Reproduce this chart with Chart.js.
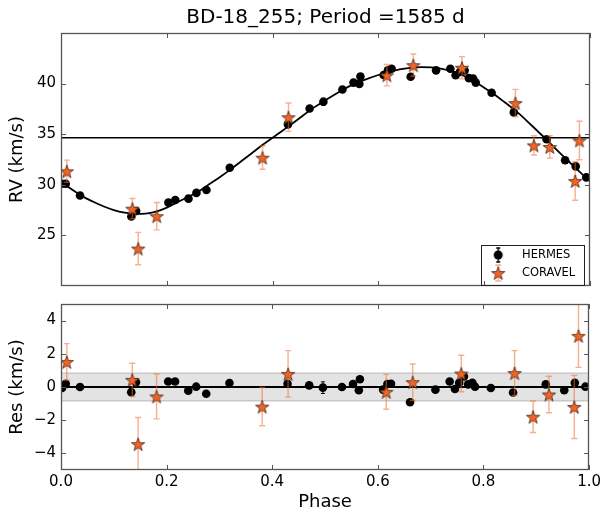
<!DOCTYPE html>
<html><head><meta charset="utf-8">
<script src="https://cdn.jsdelivr.net/npm/chart.js@4.4.1/dist/chart.umd.min.js"></script>
<style>
html,body{margin:0;padding:0;background:#fff;}
#wrap{position:relative;width:604px;height:513px;background:#fff;overflow:hidden;}
#c1{position:absolute;left:0;top:0;}
#c2{position:absolute;left:0;top:290px;}
</style></head><body>
<div id="wrap"><canvas id="c1" width="604" height="300"></canvas><canvas id="c2" width="604" height="223"></canvas></div>
<script>
// ---------------- data ----------------
const titleText = 'BD-18_255; Period =1585 d';
const phaseTicks = [0.0, 0.2, 0.4, 0.6, 0.8, 1.0];
const rvTicks = [25, 30, 35, 40];
const resTicks = [-4, -2, 0, 2, 4];
const seriesNames = ['HERMES', 'CORAVEL'];

const hermesPhase = [0.002, 0.009, 0.036, 0.133, 0.142, 0.203, 0.216, 0.241, 0.256, 0.275, 0.319, 0.429, 0.470, 0.496, 0.532, 0.553, 0.564, 0.566, 0.610, 0.618, 0.625, 0.661, 0.709, 0.736, 0.746, 0.754, 0.763, 0.771, 0.779, 0.784, 0.814, 0.856, 0.918, 0.953, 0.973, 0.993];
const hermesRV = [30.1, 30.1, 28.95, 26.87, 27.41, 28.24, 28.5, 28.63, 29.2, 29.49, 31.69, 35.97, 37.54, 38.21, 39.42, 40.1, 39.97, 40.7, 40.85, 41.31, 41.47, 40.67, 41.31, 41.47, 40.83, 41.15, 41.3, 40.54, 40.51, 40.1, 39.1, 37.16, 34.5, 32.43, 31.82, 30.73];
const hermesRes = [-0.06, 0.2, 0.0, -0.31, 0.29, 0.33, 0.33, -0.22, 0.02, -0.41, 0.24, 0.2, 0.1, -0.04, 0.0, 0.18, -0.2, 0.47, -0.16, 0.18, 0.2, -0.92, -0.16, 0.33, -0.12, 0.25, 0.63, 0.16, 0.25, 0.02, -0.06, -0.33, 0.16, -0.2, 0.25, 0.02];
const hermesErr = [0.15, 0.15, 0.15, 0.15, 0.15, 0.15, 0.15, 0.15, 0.15, 0.15, 0.15, 0.15, 0.15, 0.35, 0.15, 0.15, 0.15, 0.15, 0.15, 0.15, 0.15, 0.15, 0.15, 0.15, 0.15, 0.15, 0.15, 0.15, 0.15, 0.15, 0.15, 0.15, 0.15, 0.15, 0.15, 0.15];

const coravelPhase = [0.011, 0.135, 0.146, 0.181, 0.381, 0.430, 0.616, 0.666, 0.758, 0.859, 0.894, 0.924, 0.972, 0.980];
const coravelRV = [31.34, 27.64, 23.7, 26.9, 32.68, 36.68, 40.83, 41.82, 41.57, 38.08, 33.9, 33.74, 30.38, 34.38];
const coravelRes = [1.51, 0.43, -3.44, -0.57, -1.18, 0.79, -0.29, 0.29, 0.81, 0.84, -1.79, -0.45, -1.2, 3.08];
const coravelErr = [1.1, 1.0, 1.6, 1.35, 1.15, 1.4, 1.05, 1.1, 1.1, 1.35, 0.95, 1.1, 1.9, 1.9];

const curvePhase = [0.00, 0.02, 0.04, 0.06, 0.08, 0.10, 0.12, 0.14, 0.16, 0.18, 0.20, 0.22, 0.24, 0.26, 0.28, 0.30, 0.32, 0.34, 0.36, 0.38, 0.40, 0.42, 0.44, 0.46, 0.48, 0.50, 0.52, 0.54, 0.56, 0.58, 0.60, 0.62, 0.64, 0.66, 0.68, 0.70, 0.72, 0.74, 0.76, 0.78, 0.80, 0.82, 0.84, 0.86, 0.88, 0.90, 0.92, 0.94, 0.96, 0.98, 1.00];
const curveRV = [30.3, 29.55, 28.88, 28.35, 27.88, 27.5, 27.25, 27.12, 27.15, 27.35, 27.75, 28.27, 28.8, 29.33, 30.05, 30.75, 31.5, 32.3, 33.1, 33.9, 34.65, 35.4, 36.15, 36.95, 37.7, 38.35, 39.0, 39.6, 40.1, 40.5, 40.85, 41.15, 41.4, 41.55, 41.62, 41.6, 41.45, 41.2, 40.8, 40.25, 39.6, 38.9, 38.1, 37.3, 36.35, 35.35, 34.35, 33.3, 32.3, 31.3, 30.35];
const gammaRV = [34.65];
const residualZero = [0];
const residualBand = [0.84];

// ---------------- styling helpers ----------------
Chart.defaults.font.family = "'DejaVu Sans', sans-serif";
Chart.defaults.color = '#000';
const starFill = '#f26324';
const starEdge = '#4a2a1a';
const errColor = 'rgba(242,110,50,0.55)';
const frameColor = '#555';

function pts(xs, ys) { return xs.map((x, i) => ({x: x, y: ys[i]})); }

function starPath(ctx, cx, cy, R, r) {
  ctx.beginPath();
  for (let k = 0; k < 10; k++) {
    const ang = -Math.PI / 2 + k * Math.PI / 5;
    const rad = (k % 2 === 0) ? R : r;
    const px = cx + rad * Math.cos(ang), py = cy + rad * Math.sin(ang);
    if (k === 0) ctx.moveTo(px, py); else ctx.lineTo(px, py);
  }
  ctx.closePath();
}
function makeStar(R) {
  const c = document.createElement('canvas');
  const s = Math.ceil(2 * R + 4);
  c.width = s; c.height = s;
  const ctx = c.getContext('2d');
  starPath(ctx, s / 2, s / 2 + 0.8, R, R * 0.40);
  ctx.fillStyle = starFill; ctx.fill();
  ctx.lineWidth = 0.8; ctx.strokeStyle = starEdge; ctx.stroke();
  return c;
}
function makeLegendIcon(kind) {
  const c = document.createElement('canvas');
  c.width = 28; c.height = 22;
  const ctx = c.getContext('2d');
  const cx = 10, cy = 11;
  ctx.lineWidth = 1.4;
  if (kind === 'star') {
    ctx.strokeStyle = errColor;
    ctx.beginPath(); ctx.moveTo(cx, 3); ctx.lineTo(cx, 19);
    ctx.moveTo(cx - 3, 3); ctx.lineTo(cx + 3, 3); ctx.moveTo(cx - 3, 19); ctx.lineTo(cx + 3, 19); ctx.stroke();
    starPath(ctx, cx, cy + 0.8, 7, 2.8);
    ctx.fillStyle = starFill; ctx.fill(); ctx.lineWidth = 0.8; ctx.strokeStyle = starEdge; ctx.stroke();
  } else {
    ctx.strokeStyle = '#000';
    ctx.beginPath(); ctx.moveTo(cx, 4); ctx.lineTo(cx, 18);
    ctx.moveTo(cx - 2, 4); ctx.lineTo(cx + 2, 4); ctx.moveTo(cx - 2, 18); ctx.lineTo(cx + 2, 18); ctx.stroke();
    ctx.beginPath(); ctx.arc(cx, cy, 4.5, 0, Math.PI * 2); ctx.fillStyle = '#000'; ctx.fill();
  }
  return c;
}
const starImg = makeStar(7);
const hermesIcon = makeLegendIcon('dot');
const coravelIcon = makeLegendIcon('star');

// error bars drawn through the chart's scales
const errorBarPlugin = {
  id: 'errorBars',
  beforeDatasetDraw(chart, args) {
    const ds = chart.data.datasets[args.index];
    if (!ds.errorBars) return;
    const xs = chart.scales.x, ys = chart.scales.y, a = chart.chartArea;
    const ctx = chart.ctx;
    ctx.save();
    ctx.beginPath(); ctx.rect(a.left, a.top, a.right - a.left, a.bottom - a.top); ctx.clip();
    ctx.strokeStyle = ds.errorColor; ctx.lineWidth = ds.errorWidth || 1.3;
    const cap = ds.errorCap || 3;
    ds.data.forEach((d, i) => {
      const e = ds.errorBars[i];
      const px = xs.getPixelForValue(d.x);
      const y1 = ys.getPixelForValue(d.y - e), y2 = ys.getPixelForValue(d.y + e);
      ctx.beginPath();
      ctx.moveTo(px, y1); ctx.lineTo(px, y2);
      ctx.moveTo(px - cap, y1); ctx.lineTo(px + cap, y1);
      ctx.moveTo(px - cap, y2); ctx.lineTo(px + cap, y2);
      ctx.stroke();
    });
    ctx.restore();
  }
};

// frame with inward ticks on all four sides
const framePlugin = {
  id: 'frameTicks',
  afterDraw(chart, args, opts) {
    const a = chart.chartArea, ctx = chart.ctx;
    const xs = chart.scales.x, ys = chart.scales.y;
    ctx.save();
    ctx.strokeStyle = frameColor; ctx.lineWidth = 1.3;
    ctx.strokeRect(Math.round(a.left) + 0.5, Math.round(a.top) + 0.5, Math.round(a.right - a.left) - 1, Math.round(a.bottom - a.top) - 1);
    ctx.lineWidth = 1;
    ctx.beginPath();
    phaseTicks.forEach(v => {
      const p = Math.round(xs.getPixelForValue(v)) + 0.5;
      ctx.moveTo(p, a.bottom); ctx.lineTo(p, a.bottom - 5);
      ctx.moveTo(p, a.top); ctx.lineTo(p, a.top + 5);
    });
    (opts.yTicks || []).forEach(v => {
      const p = Math.round(ys.getPixelForValue(v)) + 0.5;
      ctx.moveTo(a.left, p); ctx.lineTo(a.left + 5, p);
      ctx.moveTo(a.right, p); ctx.lineTo(a.right - 5, p);
    });
    ctx.stroke();
    if (opts.legendBox) {
      const b = opts.legendBox;
      ctx.strokeStyle = '#222'; ctx.lineWidth = 1;
      ctx.strokeRect(b[0] + 0.5, b[1] + 0.5, b[2], b[3]);
    }
    ctx.restore();
  }
};

// place the library legend inside the plot, lower right
const legendPlacePlugin = {
  id: 'legendPlace',
  afterLayout(chart) {
    const lg = chart.legend;
    if (!lg) return;
    lg.left = 481.75; lg.top = 242.75; lg.right = 590; lg.bottom = 300;
    lg.width = 108; lg.height = 57;
  }
};

const fixW = s => { s.width = 61; };

// ---------------- top chart ----------------
new Chart(document.getElementById('c1'), {
  type: 'scatter',
  data: {
    datasets: [
      { label: seriesNames[1], data: pts(coravelPhase, coravelRV), pointStyle: starImg, pointRadius: 7,
        backgroundColor: starFill, borderColor: starEdge, errorBars: coravelErr, errorColor: errColor, errorWidth: 1.4, errorCap: 3, order: 0 },
      { label: seriesNames[0], data: pts(hermesPhase, hermesRV), pointStyle: 'circle', pointRadius: 4.3, borderWidth: 0,
        backgroundColor: '#000', borderColor: '#000', errorBars: hermesErr, errorColor: '#000', errorWidth: 1, errorCap: 2, order: 1 },
      { type: 'line', label: 'fit', data: pts(curvePhase, curveRV), borderColor: '#000', borderWidth: 1.8,
        pointRadius: 0, cubicInterpolationMode: 'monotone', fill: false, order: 2 },
      { type: 'line', label: 'gamma', data: pts([0, 1], [gammaRV[0], gammaRV[0]]), borderColor: '#000', borderWidth: 1.3,
        pointRadius: 0, fill: false, order: 3 }
    ]
  },
  options: {
    responsive: false, animation: false, events: [],
    layout: { padding: { left: 0, right: 14, top: 0, bottom: 9 } },
    scales: {
      x: { type: 'linear', min: 0, max: 1, display: false },
      y: { type: 'linear', min: 20, max: 45, position: 'left',
        afterBuildTicks: s => { s.ticks = rvTicks.map(v => ({value: v})); },
        afterFit: fixW,
        grid: { display: false, drawTicks: false }, border: { display: false },
        ticks: { padding: 5, font: { size: 15 }, color: '#000', autoSkip: false, callback: v => String(v) },
        title: { display: true, text: 'RV (km/s)', font: { size: 18 }, color: '#000', padding: { top: 7, bottom: 0 } } }
    },
    plugins: {
      title: { display: true, text: titleText, fullSize: false, font: { size: 20, weight: 'normal' }, color: '#000', padding: { top: 6, bottom: 3 } },
      legend: { display: true, position: 'chartArea', align: 'start',
        labels: { usePointStyle: true, pointStyleWidth: 28, padding: 6.5, font: { size: 11.5 }, color: '#000',
          generateLabels: () => [
            { text: seriesNames[0], pointStyle: hermesIcon, fillStyle: '#000', strokeStyle: '#000', lineWidth: 0, hidden: false, datasetIndex: 1, fontColor: '#000' },
            { text: seriesNames[1], pointStyle: coravelIcon, fillStyle: starFill, strokeStyle: starEdge, lineWidth: 0, hidden: false, datasetIndex: 0, fontColor: '#000' }
          ] } },
      tooltip: { enabled: false },
      frameTicks: { yTicks: rvTicks, legendBox: [481, 245, 103, 40] }
    }
  },
  plugins: [errorBarPlugin, framePlugin, legendPlacePlugin]
});

// ---------------- residual chart ----------------
new Chart(document.getElementById('c2'), {
  type: 'scatter',
  data: {
    datasets: [
      { label: seriesNames[1], data: pts(coravelPhase, coravelRes), pointStyle: starImg, pointRadius: 7,
        backgroundColor: starFill, borderColor: starEdge, errorBars: coravelErr, errorColor: errColor, errorWidth: 1.4, errorCap: 3, order: 0 },
      { label: seriesNames[0], data: pts(hermesPhase, hermesRes), pointStyle: 'circle', pointRadius: 4.3, borderWidth: 0,
        backgroundColor: '#000', borderColor: '#000', errorBars: hermesErr, errorColor: '#000', errorWidth: 1, errorCap: 2, order: 1 },
      { type: 'line', label: 'zero', data: pts([0, 1], [residualZero[0], residualZero[0]]), borderColor: '#000', borderWidth: 2.2,
        pointRadius: 0, fill: false, order: 2 },
      { type: 'line', label: 'bandLow', data: pts([0, 1], [-residualBand[0], -residualBand[0]]), borderColor: 'rgba(150,150,150,0.6)', borderWidth: 1,
        pointRadius: 0, fill: false, order: 3 },
      { type: 'line', label: 'band', data: pts([0, 1], [residualBand[0], residualBand[0]]), borderColor: 'rgba(150,150,150,0.6)', borderWidth: 1,
        pointRadius: 0, fill: { value: -residualBand[0] }, backgroundColor: '#e3e3e3', order: 4 }
    ]
  },
  options: {
    responsive: false, animation: false, events: [],
    layout: { padding: { left: 0, right: 14, top: 10, bottom: 0 } },
    scales: {
      x: { type: 'linear', min: 0, max: 1, position: 'bottom',
        afterBuildTicks: s => { s.ticks = phaseTicks.map(v => ({value: v})); },
        afterFit: s => { s.height = 43; },
        grid: { display: false, drawTicks: false }, border: { display: false },
        ticks: { padding: 3, font: { size: 15 }, color: '#000', autoSkip: false, maxRotation: 0, callback: v => Number(v).toFixed(1) },
        title: { display: true, text: 'Phase', font: { size: 18 }, color: '#000', padding: { top: 0, bottom: 0 } } },
      y: { type: 'linear', min: -5, max: 5, position: 'left',
        afterBuildTicks: s => { s.ticks = resTicks.map(v => ({value: v})); },
        afterFit: fixW,
        grid: { display: false, drawTicks: false }, border: { display: false },
        ticks: { padding: 5, font: { size: 15 }, color: '#000', autoSkip: false, callback: v => (v < 0 ? '\u2212' + Math.abs(v) : String(v)) },
        title: { display: true, text: 'Res (km/s)', font: { size: 18 }, color: '#000', padding: { top: 7, bottom: 0 } } }
    },
    plugins: {
      legend: { display: false },
      tooltip: { enabled: false },
      frameTicks: { yTicks: resTicks }
    }
  },
  plugins: [errorBarPlugin, framePlugin]
});
</script>
</body></html>
